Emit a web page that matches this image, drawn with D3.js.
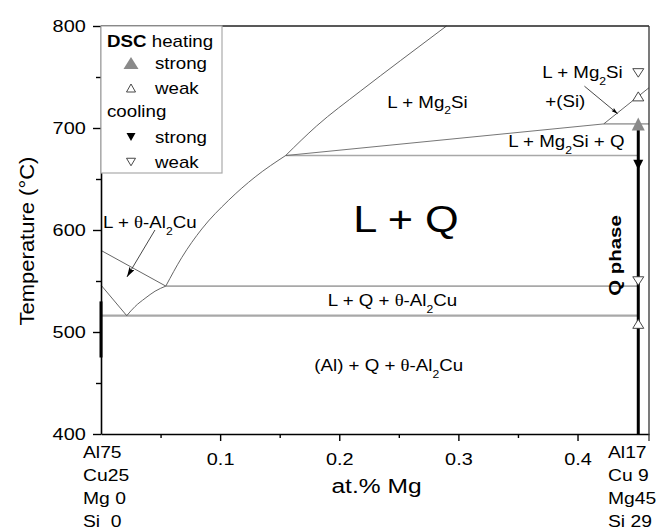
<!DOCTYPE html>
<html>
<head>
<meta charset="utf-8">
<script src="https://cdn.jsdelivr.net/npm/d3@7"></script>
<style>
  body { margin: 0; background: #fff; }
  svg { display: block; font-family: "Liberation Sans", Arial, sans-serif; }
</style>
</head>
<body>
<svg id="chart" width="656" height="531"></svg>
<script>
// axis ticks
const xTicks = [0.1, 0.2, 0.3, 0.4];
const xMinorTicks = [0.05, 0.15, 0.25, 0.35];
const yTicks = [400, 500, 600, 700, 800];
const yMinorTicks = [450, 550, 650, 750];

// phase boundaries as [at.% Mg, T (°C)]
const liquidusMg2Si = [[0.155, 673], [0.181, 702], [0.2176, 736], [0.2513, 766], [0.29, 800]];
const liquidusQ = [[0.0544, 545], [0.0678, 573], [0.0846, 601], [0.107, 629], [0.1294, 652], [0.155, 673]];
const liquidusTheta = [[0, 580], [0.0544, 545]];
const eutecticValley = [[0.0216, 516], [0.0286, 525], [0.037, 533], [0.0454, 540], [0.0544, 545]];
const solidusAl = [[0, 546], [0.0216, 516]];
const valleyMg2SiQ = [[0.155, 673], [0.422, 704]];
const valleySi = [[0.422, 704], [0.46, 739.5]];

// invariant reactions (horizontal lines)
const invariants = [
  { t: 673, from: 0.155, to: 0.451 },
  { t: 545, from: 0.0544, to: 0.451 },
  { t: 516, from: 0, to: 0.451 },
  { t: 704, from: 0.422, to: 0.46 }
];

// DSC signals of the Al17Cu9Mg45Si29 alloy
const alloyMg = 0.451;
const heatingStrong = [704];
const heatingWeak = [731, 508];
const coolingStrong = [664];
const coolingWeak = [754, 550];
const leftAlloyRange = [475, 530];

// end members of the section
const leftAlloy = ["Al75", "Cu25", "Mg 0", "Si  0"];
const rightAlloy = ["Al17", "Cu 9", "Mg45", "Si 29"];

const svg = d3.select("#chart");
const sx = 1.17;

const x = d3.scaleLinear().domain([0, 0.46]).range([101, 649]);
const y = d3.scaleLinear().domain([400, 800]).range([434, 26]);

svg.append("rect").attr("width", 656).attr("height", 531).attr("fill", "#fff");

const defs = svg.append("defs");
defs.append("marker")
  .attr("id", "arrow")
  .attr("viewBox", "0 0 10 6")
  .attr("refX", 10)
  .attr("refY", 3)
  .attr("markerWidth", 10)
  .attr("markerHeight", 6)
  .attr("markerUnits", "userSpaceOnUse")
  .attr("orient", "auto")
  .append("path")
  .attr("d", "M0,0L10,3L0,6L2,3z")
  .attr("fill", "#000");
defs.append("marker")
  .attr("id", "arrowSmall")
  .attr("viewBox", "0 0 10 6")
  .attr("refX", 10)
  .attr("refY", 3)
  .attr("markerWidth", 7)
  .attr("markerHeight", 4)
  .attr("markerUnits", "userSpaceOnUse")
  .attr("orient", "auto")
  .append("path")
  .attr("d", "M0,0L10,3L0,6L2,3z")
  .attr("fill", "#000");

// text with _2 subscripts and a serif theta
function label(str, px, py, size, anchor = "start", weight = "normal") {
  const t = svg.append("text")
    .attr("transform", `translate(${px},${py}) scale(${sx},1)`)
    .attr("text-anchor", anchor)
    .style("font-size", `${size}px`)
    .style("font-weight", weight)
    .style("white-space", "pre");
  let shift = 0;
  str.split(/(_\d|θ)/).filter((s) => s).forEach((part) => {
    const span = t.append("tspan");
    if (part[0] === "_") {
      span.attr("dy", size * 0.42).style("font-size", `${size * 0.65}px`).text(part[1]);
      shift = size * 0.42;
    } else {
      if (shift) {
        span.attr("dy", -shift);
        shift = 0;
      }
      if (part === "θ") span.style("font-family", "'Liberation Serif', serif");
      span.text(part);
    }
  });
  return t;
}

function tri(w, h, up) {
  return up
    ? `M${-w / 2},${h / 2}L${w / 2},${h / 2}L0,${-h / 2}Z`
    : `M${-w / 2},${-h / 2}L${w / 2},${-h / 2}L0,${h / 2}Z`;
}

const line = d3.line().x((d) => x(d[0])).y((d) => y(d[1]));
const curve = d3.line().x((d) => x(d[0])).y((d) => y(d[1])).curve(d3.curveMonotoneX);

// invariant lines
svg.append("g")
  .selectAll("line")
  .data(invariants)
  .join("line")
  .attr("x1", (d) => x(d.from))
  .attr("x2", (d) => x(d.to))
  .attr("y1", (d) => y(d.t))
  .attr("y2", (d) => y(d.t))
  .attr("stroke", "#a8a8a8")
  .attr("stroke-width", (d) => (d.t === 516 ? 2.2 : 1.6));

// boundary curves
const bounds = svg.append("g").attr("fill", "none").attr("stroke", "#555").attr("stroke-width", 0.9);
bounds.append("path").attr("d", curve(liquidusMg2Si));
bounds.append("path").attr("d", curve(liquidusQ));
bounds.append("path").attr("d", line(liquidusTheta));
bounds.append("path").attr("d", curve(eutecticValley));
bounds.append("path").attr("d", line(solidusAl));
bounds.append("path").attr("d", line(valleyMg2SiQ)).attr("stroke", "#666");
bounds.append("path").attr("d", line(valleySi));

// axes
const xAxis = svg.append("g")
  .attr("transform", `translate(0,${y(400)})`)
  .call(d3.axisBottom(x).tickValues(xTicks).tickSize(7).tickPadding(12).tickSizeOuter(0).tickFormat(d3.format(".1f")));
svg.append("g")
  .attr("transform", `translate(0,${y(400)})`)
  .call(d3.axisBottom(x).tickValues(xMinorTicks).tickSize(4).tickFormat(""))
  .call((g) => g.select(".domain").remove());
const yAxis = svg.append("g")
  .attr("transform", `translate(${x(0)},0)`)
  .call(d3.axisLeft(y).tickValues(yTicks).tickSize(8).tickPadding(5).tickSizeOuter(0));
svg.append("g")
  .attr("transform", `translate(${x(0)},0)`)
  .call(d3.axisLeft(y).tickValues(yMinorTicks).tickSize(5).tickFormat(""))
  .call((g) => g.select(".domain").remove());

svg.selectAll(".domain").attr("stroke-width", 1.6);
svg.selectAll(".tick line").attr("stroke-width", 1.4);
[xAxis, yAxis].forEach((g) => {
  g.attr("font-family", null).attr("font-size", null);
  g.selectAll("text")
    .attr("transform", `scale(${sx},1)`)
    .style("font-size", "17px")
    .attr("fill", "#000");
});

// frame
svg.append("line")
  .attr("x1", x(0)).attr("x2", x(0.46))
  .attr("y1", y(800)).attr("y2", y(800))
  .attr("stroke", "#222").attr("stroke-width", 1.5);
svg.append("line")
  .attr("x1", x(0.46)).attr("x2", x(0.46))
  .attr("y1", y(800)).attr("y2", y(400) + 7)
  .attr("stroke", "#333").attr("stroke-width", 1.3);

// alloy lines
svg.append("line")
  .attr("x1", x(0)).attr("x2", x(0))
  .attr("y1", y(leftAlloyRange[0])).attr("y2", y(leftAlloyRange[1]))
  .attr("stroke", "#000").attr("stroke-width", 3);
svg.append("line")
  .attr("x1", x(alloyMg)).attr("x2", x(alloyMg))
  .attr("y1", y(400)).attr("y2", y(heatingStrong[0]))
  .attr("stroke", "#000").attr("stroke-width", 3);

// DSC markers
const markers = svg.append("g");
markers.selectAll(".hs").data(heatingStrong).join("path")
  .attr("class", "hs")
  .attr("transform", (d) => `translate(${x(alloyMg)},${y(d)})`)
  .attr("d", tri(13, 13, true)).attr("fill", "#8a8a8a");
markers.selectAll(".cs").data(coolingStrong).join("path")
  .attr("class", "cs")
  .attr("transform", (d) => `translate(${x(alloyMg)},${y(d)})`)
  .attr("d", tri(10, 10, false)).attr("fill", "#000");
markers.selectAll(".hw").data(heatingWeak).join("path")
  .attr("class", "hw")
  .attr("transform", (d) => `translate(${x(alloyMg)},${y(d)})`)
  .attr("d", tri(11, 9, true)).attr("fill", "#fff").attr("stroke", "#333").attr("stroke-width", 0.9);
markers.selectAll(".cw").data(coolingWeak).join("path")
  .attr("class", "cw")
  .attr("transform", (d) => `translate(${x(alloyMg)},${y(d)})`)
  .attr("d", tri(11, 8.5, false)).attr("fill", "#fff").attr("stroke", "#333").attr("stroke-width", 0.9);

// legend
const lg = svg.append("g");
lg.append("rect")
  .attr("x", x(0)).attr("y", y(800))
  .attr("width", 121).attr("height", 147)
  .attr("fill", "#fff").attr("stroke", "#aaa").attr("stroke-width", 1.2);
const dsc = lg.append("text")
  .attr("transform", `translate(107,47) scale(${sx},1)`)
  .style("font-size", "16px");
dsc.append("tspan").style("font-weight", "bold").text("DSC");
dsc.append("tspan").text(" heating");
lg.append("text")
  .attr("transform", `translate(107,117) scale(${sx},1)`)
  .style("font-size", "16px")
  .text("cooling");
const legendRows = [
  { cy: 63, up: true, fill: "#8a8a8a", w: 15, h: 12, text: "strong", stroke: "none" },
  { cy: 88, up: true, fill: "#fff", w: 9, h: 8, text: "weak", stroke: "#333" },
  { cy: 137, up: false, fill: "#000", w: 9, h: 8, text: "strong", stroke: "none" },
  { cy: 162, up: false, fill: "#fff", w: 9, h: 7.5, text: "weak", stroke: "#333" }
];
legendRows.forEach((r) => {
  lg.append("path")
    .attr("transform", `translate(131,${r.cy})`)
    .attr("d", tri(r.w, r.h, r.up))
    .attr("fill", r.fill)
    .attr("stroke", r.stroke)
    .attr("stroke-width", 0.9);
  lg.append("text")
    .attr("transform", `translate(155,${r.cy + 5.5}) scale(${sx},1)`)
    .style("font-size", "16px")
    .text(r.text);
});

// arrows
svg.append("line")
  .attr("x1", x(0.0453)).attr("y1", y(600))
  .attr("x2", x(0.0218)).attr("y2", y(554))
  .attr("stroke", "#333").attr("stroke-width", 0.9)
  .attr("marker-end", "url(#arrow)");
svg.append("line")
  .attr("x1", x(0.4058)).attr("y1", y(741))
  .attr("x2", x(0.4337)).attr("y2", y(714))
  .attr("stroke", "#333").attr("stroke-width", 0.9)
  .attr("marker-end", "url(#arrowSmall)");

// phase field labels
label("L + Mg_2Si", x(0.2403), y(720), 16);
label("L + Mg_2Si", x(0.3704), y(749), 16);
label("+(Si)", x(0.3729), y(720.5), 16);
label("L + Mg_2Si + Q", x(0.3418), y(681), 16);
label("L + Q", x(0.2117), y(598), 37);
label("L + θ-Al_2Cu", x(0.0017), y(602), 16);
label("L + Q + θ-Al_2Cu", x(0.299), y(525.5), 16, "end");
label("(Al) + Q + θ-Al_2Cu", x(0.304), y(461.5), 16, "end");

svg.append("text")
  .attr("transform", `translate(${x(0.4366)},${y(575)}) scale(1,1.2) rotate(-90)`)
  .attr("text-anchor", "middle")
  .style("font-size", "17px")
  .style("font-weight", "bold")
  .text("Q phase");

// end member compositions
leftAlloy.forEach((s, i) => label(s, 83, 458 + i * 23, 16.5));
rightAlloy.forEach((s, i) => label(s, 608, 458 + i * 23, 16.5));

// axis titles
svg.append("text")
  .attr("transform", `translate(33.5,241) scale(1,1.1) rotate(-90)`)
  .attr("text-anchor", "middle")
  .style("font-size", "20px")
  .text("Temperature (°C)");
label("at.% Mg", 376.5, 493, 21, "middle");
</script>
</body>
</html>
